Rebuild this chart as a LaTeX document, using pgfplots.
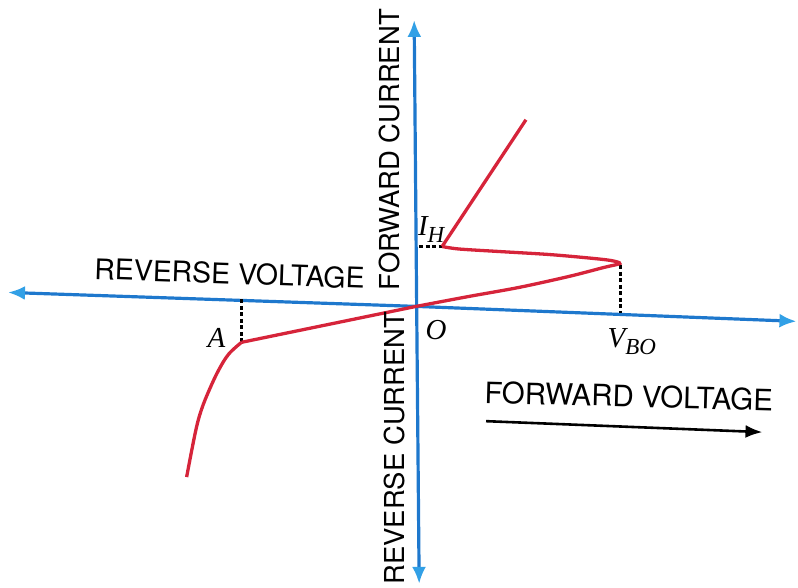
\documentclass[border=0pt]{standalone}
\usepackage{pgfplots}
\pgfplotsset{compat=1.18}
\usepackage{fontspec}
\setmainfont{TeX Gyre Heros}
\newfontfamily\tms{Liberation Serif}
\usetikzlibrary{arrows.meta}
\definecolor{axblue}{RGB}{30,120,205}
\definecolor{tipblue}{RGB}{50,160,230}
\definecolor{curvered}{RGB}{214,36,58}
\newcommand{\ilab}{\tms\itshape\fontsize{29}{32}\selectfont}
\begin{document}
\begin{tikzpicture}
\begin{axis}[
  scale only axis, width=798pt, height=587pt,
  xmin=0, xmax=798, ymin=0, ymax=587, y dir=reverse,
  hide axis, clip=false,
]
\addplot[draw=none] coordinates {(0,0) (798,587)};
% axes
\addplot[axblue, line width=3.2pt, -{Latex[length=17pt,width=14pt,color=tipblue]}] coordinates {(417,307) (8,293)};
\addplot[axblue, line width=3.2pt, -{Latex[length=17pt,width=14pt,color=tipblue]}] coordinates {(417,307) (798,322)};
\addplot[axblue, line width=3.2pt, -{Latex[length=17pt,width=14pt,color=tipblue]}] coordinates {(417.5,307) (415,20)};
\addplot[axblue, line width=3.2pt, -{Latex[length=17pt,width=14pt,color=tipblue]}] coordinates {(417.5,307) (420,585)};
% dashed guides
\addplot[black, line width=2.6pt, dash pattern=on 4pt off 2.5pt] coordinates {(420,247) (443,247)};
\addplot[black, line width=2.6pt, dash pattern=on 4pt off 2.5pt] coordinates {(622,266) (622,314)};
\addplot[black, line width=2.6pt, dash pattern=on 4pt off 2.5pt] coordinates {(242,300) (242,343)};
% curve
\addplot[curvered, line width=3.3pt, smooth, tension=0.5] coordinates {
 (417,307) (470,297) (520,288) (570,277) (605,268) (621,264) (612,261) (590,258.5) (550,255) (500,252) (460,249.5) (443,247)};
\addplot[curvered, line width=3.3pt] coordinates {(443,247) (527,120)};
\addplot[curvered, line width=3.3pt] coordinates {(417,307) (242,343)};
\addplot[curvered, line width=3.3pt, smooth, tension=0.6] coordinates {
 (242,343) (229,355) (219,371) (210,390) (202,410) (196,432) (187,478)};
% arrow for forward voltage
\addplot[black, line width=2.6pt, -{Latex[length=17pt,width=13pt]}] coordinates {(487,422) (764,433)};
% labels
\node[rotate=-2] at (axis cs:230,274) {\fontsize{28.5}{32}\selectfont REVERSE VOLTAGE};
\node[rotate=-1.5] at (axis cs:630,397) {\fontsize{29.5}{32}\selectfont FORWARD VOLTAGE};
\node[rotate=90] at (axis cs:390,150) {\fontsize{27.5}{32}\selectfont FORWARD CURRENT};
\node[rotate=90] at (axis cs:395,449) {\fontsize{27.5}{32}\selectfont REVERSE CURRENT};
\node at (axis cs:432,230) {\ilab I\raisebox{-0.25em}{\fontsize{23}{25}\selectfont H}};
\node at (axis cs:437,331) {\ilab O};
\node at (axis cs:633,342) {\ilab V\raisebox{-0.25em}{\fontsize{23}{25}\selectfont BO}};
\node at (axis cs:217,339) {\ilab A};
\end{axis}
\end{tikzpicture}
\end{document}
